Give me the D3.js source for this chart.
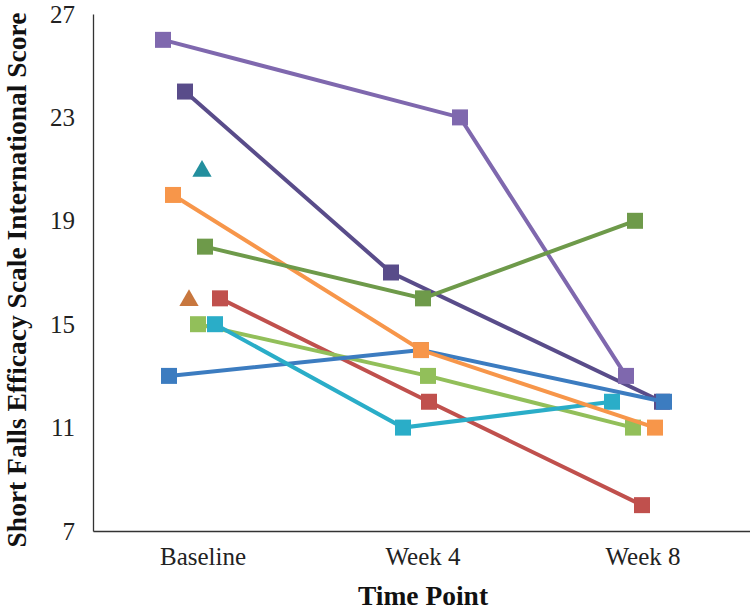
<!DOCTYPE html>
<html><head><meta charset="utf-8">
<script src="https://cdn.jsdelivr.net/npm/d3@7"></script>
<style>body{margin:0;background:#fff}</style>
</head><body><svg id="c" width="750" height="611"></svg>
<script>
const timePoints = ["Baseline", "Week 4", "Week 8"];
const yTicks = [7, 11, 15, 19, 23, 27];
const seriesNames = ["P1","P2","P3","P4","P5","P6","P7","P8","P9","P10"];
const values = [
  [16, 12, 8],      // red
  [15, 13, 11],     // light green
  [24, 17, 12],     // dark purple
  [13, 14, 12],     // blue
  [15, 11, 12],     // cyan
  [20, 14, 11],     // orange
  [26, 23, 13],     // light purple
  [18, 16, 19],     // dark green
  [21, null, null], // teal (triangle)
  [16, null, null]  // brown (triangle)
];
// presentation: colours, marker shapes, horizontal jitter (px)
const colors = ["#C0504D","#92BF5A","#594C8A","#3C7CC0","#2AADC8","#F7964A","#7F68AE","#6E9A4A","#238F9E","#C8773E"];
const shapes = ["square","square","square","square","square","square","square","square","triangle","triangle"];
const jitter = [[17,6,-1],[-5,5,-10],[-18,-32,19],[-34,-2,21],[12,-20,-31],[-30,-2,12],[-40,37,-17],[2,0,-8],[-1,0,0],[-14,0,0]];

const svg = d3.select("#c");
const x = d3.scaleBand().domain(timePoints).range([93, 753]);
const y = d3.scaleLinear().domain([7, 27]).range([531, 14]);
const font = "'Liberation Serif', 'Times New Roman', serif";

// axes
const yAxis = svg.append("g").attr("transform","translate(93,0)")
  .call(d3.axisLeft(y).tickValues(yTicks).tickSize(0).tickPadding(18));
yAxis.select(".domain").attr("stroke","#333").attr("stroke-width",1.3);
yAxis.selectAll("text").attr("font-family",font).attr("font-size",25).attr("fill","#222");

const xAxis = svg.append("g").attr("transform","translate(0,531)")
  .call(d3.axisBottom(x).tickSize(0).tickPadding(16));
xAxis.select(".domain").attr("stroke","#333").attr("stroke-width",1.3);
xAxis.selectAll("text").attr("font-family",font).attr("font-size",25).attr("fill","#222");

svg.append("text").attr("x",423).attr("y",605).attr("text-anchor","middle")
  .attr("font-family",font).attr("font-weight","bold").attr("font-size",27.5).attr("fill","#111")
  .text("Time Point");
svg.append("text").attr("transform","translate(26,280) rotate(-90)").attr("text-anchor","middle")
  .attr("font-family",font).attr("font-weight","bold").attr("font-size",27.5).attr("fill","#111")
  .text("Short Falls Efficacy Scale International Score");

const px = (i, j) => x(timePoints[j]) + x.bandwidth()/2 + jitter[i][j];

values.forEach((vals, i) => {
  const pts = vals.map((v, j) => ({v, j})).filter(d => d.v != null);
  const g = svg.append("g").attr("class","series").attr("data-name", seriesNames[i]);
  if (pts.length > 1) {
    g.append("path")
      .attr("d", d3.line().x(d => px(i, d.j)).y(d => y(d.v))(pts))
      .attr("fill","none").attr("stroke",colors[i]).attr("stroke-width",4);
  }
  const sym = d3.symbol().type(shapes[i] === "square" ? d3.symbolSquare : d3.symbolTriangle)
    .size(shapes[i] === "square" ? 256 : 160);
  g.selectAll(".m").data(pts).join("path")
    .attr("transform", d => `translate(${px(i, d.j)},${y(d.v) + (shapes[i]==="triangle" ? 2 : 0)})`)
    .attr("d", sym).attr("fill", colors[i]);
});
</script></body></html>
